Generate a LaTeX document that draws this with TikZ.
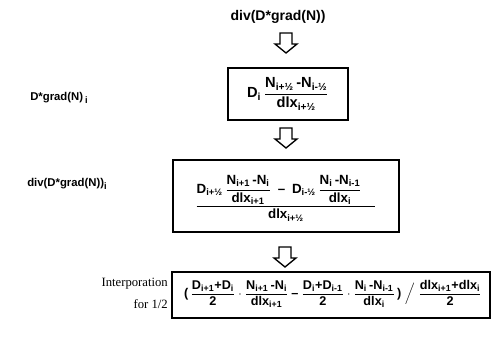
\documentclass[tikz,border=0pt]{standalone}
\usepackage{amsmath}
\usepackage{fontspec}
\setmainfont{Liberation Serif}
\newfontfamily\fml{Liberation Sans}
% bold sans glyphs inside formulas
\newcommand\Q[1]{\text{\fml\bfseries #1}}
\newcommand\mn{\mathbin{\Q{\textendash}}}
\begin{document}
\begin{tikzpicture}[x=0.75pt,y=-0.75pt,
  heading/.style={font=\fml\bfseries\fontsize{10.5}{12}\selectfont, inner sep=0pt},
  sidelabel/.style={font=\fml\bfseries\fontsize{8.5}{10}\selectfont, inner sep=0pt, anchor=west},
  formula/.style={font=\fml\bfseries\fontsize{10}{12}\selectfont, inner sep=0pt},
  framebox/.style={draw, line width=1.1pt, inner sep=0pt},
  downarrow/.pic={\draw[line width=1pt, line join=miter]
     (-6,0) -- (6,0) -- (6,11) -- (11,11) -- (0,20) -- (-11,11) -- (-6,11) -- cycle;}]
\useasboundingbox (0,0) rectangle (495,337);

% heading
\node[heading] (title) at (278,17) {div(D*grad(N))};

% frames
\node[framebox, minimum width=90pt, minimum height=39pt] (b1) at (288,94) {};
\node[framebox, minimum width=169.5pt, minimum height=54pt] (b2) at (286,196) {};
\node[framebox, minimum width=238.5pt, minimum height=34.5pt] (b3) at (331,295) {};

% hollow arrows between the stages
\pic at (286,33) {downarrow};
\pic at (286,128) {downarrow};
\pic at (285,247) {downarrow};

% formulas
\node[formula, font=\fml\bfseries\fontsize{11}{13}\selectfont] (f1) at (288,94) {$\Q{D}_{\Q{i}}\,\dfrac{\Q{N}_{\Q{i+½}}\,\Q{-N}_{\Q{i-½}}}{\Q{dlx}_{\Q{i+½}}}$};
\node[formula] (f2) at (286,198) {$\dfrac{\Q{D}_{\Q{i+½}}\,\dfrac{\Q{N}_{\Q{i+1}}\Q{\,-N}_{\Q{i}}}{\Q{dlx}_{\Q{i+1}}}\;\mn\;\Q{D}_{\Q{i-½}}\,\dfrac{\Q{N}_{\Q{i}}\Q{\,-N}_{\Q{i-1}}}{\Q{dlx}_{\Q{i}}}\hspace{10pt}}{\Q{dlx}_{\Q{i+½}}}$};
\node[formula, font=\fml\bfseries\fontsize{9.5}{11}\selectfont] (f3) at (333,294) {$\Q{(}\,\dfrac{\Q{D}_{\Q{i+1}}\Q{+D}_{\Q{i}}}{\Q{2}}\cdot\dfrac{\Q{N}_{\Q{i+1}}\Q{\,-N}_{\Q{i}}}{\Q{dlx}_{\Q{i+1}}}\mn\dfrac{\Q{D}_{\Q{i}}\Q{+D}_{\Q{i-1}}}{\Q{2}}\cdot\dfrac{\Q{N}_{\Q{i}}\Q{\,-N}_{\Q{i-1}}}{\Q{dlx}_{\Q{i}}}\,\Q{)}\;\Big/\;\dfrac{\Q{dlx}_{\Q{i+1}}\Q{+dlx}_{\Q{i}}}{\Q{2}}$};

% side labels
\node[sidelabel] (l1) at (30,98) {D*grad(N)\,\raisebox{-2pt}{\scriptsize i}};
\node[sidelabel] (l2) at (27,184) {div(D*grad(N))\raisebox{-2pt}{\scriptsize i}};
\node[font=\fontsize{9.5}{16.5}\selectfont, align=right, anchor=east, inner sep=0pt] (l3) at (168,293) {Interporation\\for 1/2};
\end{tikzpicture}
\end{document}
